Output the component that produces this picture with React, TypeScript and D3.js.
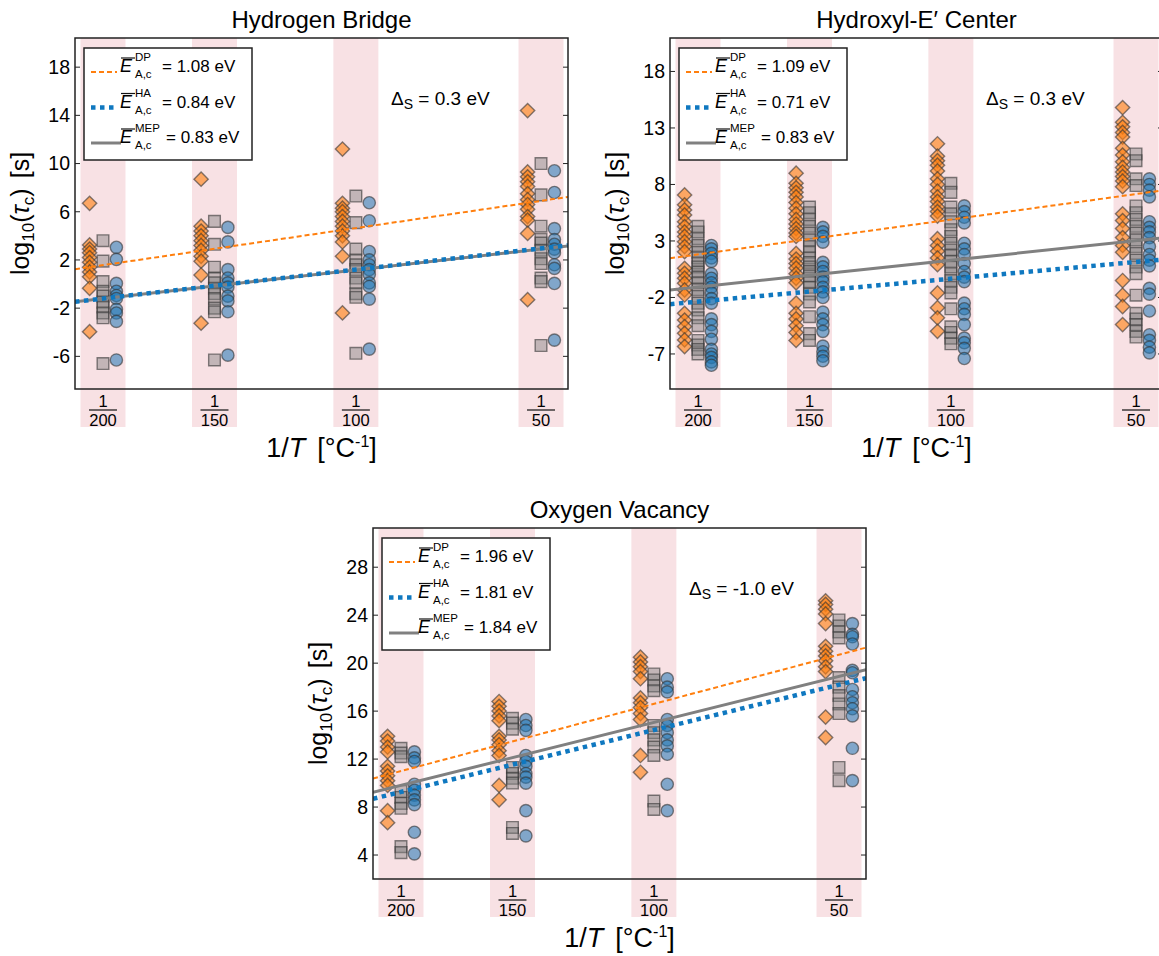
import React from 'react';
import * as d3 from 'd3';

// temperatures in °C for the four measurement groups
const temps = [200, 150, 100, 50];
const tickDen = ['200', '150', '100', '50'];
const seriesNames = ['DP', 'HA', 'MEP'];

// Hydrogen Bridge
const hbDP = [
  [6.7, 3.25, 2.9, 2.6, 2.2, 1.8, 1.4, 1.0, 0.6, -0.35, -3.95],
  [8.7, 4.8, 4.4, 4.0, 3.6, 3.2, 2.8, 2.3, 1.9, 0.75, -3.25],
  [11.2, 6.7, 6.3, 6.0, 5.6, 5.2, 4.8, 4.4, 4.0, 3.5, 2.3, -2.4],
  [14.4, 9.3, 8.9, 8.5, 8.1, 7.5, 7.0, 6.6, 6.2, 5.6, 5.3, 4.2, -1.3],
];
const hbMEP = [
  [3.6, 1.9, 0.2, -0.6, -1.0, -1.5, -1.9, -2.4, -2.8, -6.6],
  [5.2, 3.3, 1.4, 0.5, 0.1, -0.35, -0.8, -1.2, -2.0, -2.3, -6.3],
  [7.3, 5.1, 2.9, 2.0, 1.6, 1.2, 0.5, 0.1, -0.8, -1.1, -5.75],
  [10.0, 7.4, 4.8, 3.7, 3.4, 2.8, 2.1, 1.7, 0.5, 0.2, -5.1],
];
const hbHA = [
  [3.05, 2.05, 0.05, -0.6, -0.95, -1.2, -2.1, -2.4, -3.1, -6.3],
  [4.7, 3.5, 1.2, 0.5, 0.1, -0.25, -1.0, -1.4, -2.3, -5.9],
  [6.75, 5.25, 2.7, 2.0, 1.6, 1.2, 0.8, 0.1, -0.2, -1.25, -5.4],
  [9.4, 7.6, 4.6, 3.7, 3.3, 2.9, 2.6, 1.6, 1.3, 0.05, -4.65],
];
// fit values at 1/200 and 1/50 (DP, HA, MEP)
const hbFit = [[1.57, 6.9], [-1.2, 2.96], [-1.2, 2.9]];
const hbEnergy = ['1.08', '0.84', '0.83'];

// Hydroxyl-E' Center
const hxDP = [
  [7.07, 6.2, 5.75, 5.3, 4.7, 4.27, 3.8, 3.4, 2.94, 2.5, 2.05, 0.58, 0.14, -0.3, -0.74, -1.34, -1.78, -3.4, -4.0, -4.58, -5.17, -5.76, -6.35],
  [9.0, 8.1, 7.7, 7.3, 6.9, 6.4, 5.9, 5.4, 4.9, 4.5, 4.1, 3.7, 3.4, 1.9, 1.4, 1.0, 0.6, 0.1, -0.3, -0.7, -2.5, -3.4, -3.9, -4.5, -5.1, -5.8],
  [11.6, 10.5, 10.1, 9.7, 9.2, 8.5, 8.0, 7.4, 6.9, 6.5, 6.0, 5.6, 5.2, 3.2, 2.6, 2.1, 1.5, 0.9, -1.6, -2.9, -3.8, -5.0],
  [14.8, 13.5, 13.1, 12.6, 12.2, 11.2, 10.6, 10.0, 9.5, 9.1, 8.7, 8.3, 7.8, 5.4, 4.8, 4.1, 3.3, 2.6, 2.0, -0.5, -1.8, -2.8, -4.4],
];
const hxMEP = [
  [4.3, 3.8, 3.2, 2.6, 2.0, 1.5, 1.05, 0.7, 0.25, -0.2, -0.7, -1.3, -1.9, -2.5, -3.1, -3.8, -4.5, -5.8, -6.2, -6.6, -7.0],
  [6.0, 5.5, 4.9, 4.3, 3.7, 3.1, 2.5, 2.0, 1.5, 1.1, 0.7, 0.3, -0.1, -0.6, -1.1, -1.7, -2.4, -3.7, -5.2, -5.8],
  [8.1, 7.3, 6.0, 5.4, 4.7, 4.0, 3.4, 2.8, 2.2, 1.7, 1.2, 0.7, 0.1, -0.5, -1.1, -1.6, -3.0, -4.6, -5.1, -5.6, -6.1],
  [10.7, 10.1, 8.5, 7.9, 6.1, 5.5, 4.9, 4.3, 3.7, 3.1, 2.5, 1.9, 1.3, 0.7, 0.1, -1.8, -3.4, -3.9, -4.4, -5.0, -5.5],
];
const hxHA = [
  [2.6, 2.3, 1.9, 1.5, 1.2, 0.1, -0.3, -0.7, -1.1, -1.6, -2.1, -2.5, -3.9, -4.4, -5.0, -5.7, -6.6, -7.0, -7.3, -7.7, -8.0],
  [4.2, 3.8, 3.4, 2.9, 1.1, 0.7, 0.3, -0.2, -0.6, -1.1, -1.5, -2.0, -3.3, -3.9, -4.4, -5.0, -6.3, -6.8, -7.2, -7.6],
  [6.1, 5.6, 5.1, 4.6, 2.8, 2.3, 1.8, 1.0, 0.3, -0.2, -0.6, -2.5, -3.0, -3.5, -4.4, -5.6, -6.0, -6.5, -7.4],
  [8.5, 8.0, 7.5, 6.9, 4.7, 4.2, 3.8, 3.3, 2.5, 1.8, 1.3, 0.8, -1.2, -1.7, -3.2, -5.3, -5.8, -6.4, -6.9],
];
const hxFit = [[1.81, 7.15], [-2.37, 1.14], [-1.08, 3.03]];
const hxEnergy = ['1.09', '0.71', '0.83'];

// Oxygen Vacancy
const ovDP = [
  [13.9, 13.5, 13.0, 12.6, 11.4, 11.0, 10.6, 10.2, 9.8, 7.7, 6.7],
  [16.8, 16.4, 16.0, 15.6, 15.2, 13.9, 13.6, 13.2, 12.7, 12.3, 9.8, 8.6],
  [20.5, 20.1, 19.7, 19.3, 18.7, 17.1, 16.7, 16.3, 15.8, 15.3, 12.3, 10.9],
  [25.2, 24.9, 24.5, 24.1, 23.3, 21.4, 21.0, 20.6, 20.2, 19.7, 19.3, 15.5, 13.8],
];
const ovMEP = [
  [12.9, 12.5, 12.2, 9.3, 8.8, 8.3, 7.9, 4.7, 4.2],
  [15.4, 15.0, 14.5, 11.3, 10.8, 10.4, 10.0, 6.3, 5.8],
  [19.1, 18.6, 18.1, 17.7, 14.8, 14.2, 13.6, 13.0, 12.3, 8.5, 7.8],
  [23.6, 23.1, 22.6, 22.1, 18.8, 18.0, 17.3, 16.6, 15.8, 11.3, 10.2],
];
const ovHA = [
  [12.6, 12.1, 11.8, 9.9, 9.4, 9.0, 8.6, 8.2, 5.9, 4.1],
  [15.3, 14.8, 14.4, 12.3, 11.8, 11.4, 10.8, 10.5, 10.0, 7.7, 5.6],
  [18.7, 18.0, 17.6, 15.3, 14.8, 14.2, 13.6, 13.1, 12.4, 9.9, 7.7],
  [23.3, 22.4, 22.2, 21.6, 19.4, 19.2, 17.8, 17.2, 16.7, 16.2, 15.6, 12.9, 10.2],
];
const ovFit = [[11.0, 20.7], [9.26, 18.2], [9.81, 18.9]];
const ovEnergy = ['1.96', '1.81', '1.84'];

const W = 493;
const H = 351;
const FONT = '"Liberation Sans", "DejaVu Sans", sans-serif';
const ORANGE = '#ff7f0e';
const BLUE = '#1f77b4';
const LINE_BLUE = '#0f78c0';
const GRAY = '#808080';

const invT = (t: number) => 1 / (t + 273.15);

const panels = [
  { id: 'hb', left: 75, top: 38, title: 'Hydrogen Bridge', yDomain: [-8.71, 20.42], yTicks: [-6, -2, 2, 6, 10, 14, 18],
    dp: hbDP, mep: hbMEP, ha: hbHA, fit: hbFit, energy: hbEnergy, delta: '0.3' },
  { id: 'hx', left: 670, top: 38, title: 'Hydroxyl-E\u2032 Center', yDomain: [-10.1, 20.96], yTicks: [-7, -2, 3, 8, 13, 18],
    dp: hxDP, mep: hxMEP, ha: hxHA, fit: hxFit, energy: hxEnergy, delta: '0.3' },
  { id: 'ov', left: 373, top: 528, title: 'Oxygen Vacancy', yDomain: [2.0, 31.27], yTicks: [4, 8, 12, 16, 20, 24, 28],
    dp: ovDP, mep: ovMEP, ha: ovHA, fit: ovFit, energy: ovEnergy, delta: '-1.0' },
];

const diamondPath = d3.symbol().type(d3.symbolSquare).size(102)() as string;
const squarePath = d3.symbol().type(d3.symbolSquare).size(136)() as string;
const circlePath = d3.symbol().type(d3.symbolCircle).size(118)() as string;

const lineStyles = [
  { color: ORANGE, width: 2, dash: '5 3' },
  { color: LINE_BLUE, width: 4.5, dash: '4.5 4.5' },
  { color: GRAY, width: 3, dash: null },
];

function Panel({ p }: { p: any }) {
  const x = d3.scaleLinear().domain([0.0020508, 0.003155]).range([0, W]);
  const y = d3.scaleLinear().domain(p.yDomain).range([H, 0]);
  const bandHalf = 0.0000504;
  const off = 0.00003;
  const x0 = invT(temps[0]);
  const x3 = invT(temps[3]);
  const line = d3.line<[number, number]>().x(d => x(d[0])).y(d => y(d[1]));
  const dom = x.domain();

  const fitPts = (f: number[]): [number, number][] => {
    const slope = (f[1] - f[0]) / (x3 - x0);
    return [[dom[0], f[0] + slope * (dom[0] - x0)], [dom[1], f[0] + slope * (dom[1] - x0)]];
  };

  const markers = (vals: number[][], dx: number, path: string, fill: string, op: number, rot: number) =>
    vals.map((col, i) =>
      col.map((v, j) => (
        <path key={`${i}-${j}`} d={path}
          transform={`translate(${x(invT(temps[i]) + dx)},${y(v)}) rotate(${rot})`}
          fill={fill} fillOpacity={op} stroke="#333" strokeOpacity={0.6} strokeWidth={1.4} />
      )));

  return (
    <g transform={`translate(${p.left},${p.top})`}>
      <defs>
        <clipPath id={`clip-${p.id}`}><rect x={0} y={0} width={W} height={H} /></clipPath>
      </defs>
      {temps.map(t => (
        <rect key={t} x={x(invT(t) - bandHalf)} y={0} width={x(invT(t) + bandHalf) - x(invT(t) - bandHalf)}
          height={H + 38} fill="#f8e1e4" />
      ))}
      <text x={W / 2} y={-10} textAnchor="middle" fontSize={24} fontFamily={FONT}>{p.title}</text>
      <g clipPath={`url(#clip-${p.id})`}>
        {markers(p.dp, -off, diamondPath, ORANGE, 0.6, 45)}
        {markers(p.mep, 0, squarePath, GRAY, 0.45, 0)}
        {markers(p.ha, off, circlePath, BLUE, 0.55, 0)}
        {[2, 1, 0].map(k => (
          <path key={k} d={line(fitPts(p.fit[k])) as string} fill="none" stroke={lineStyles[k].color}
            strokeWidth={lineStyles[k].width} strokeDasharray={lineStyles[k].dash ?? undefined} />
        ))}
      </g>
      <rect x={0} y={0} width={W} height={H} fill="none" stroke="#222" strokeWidth={1.5} />
      {p.yTicks.map((t: number) => (
        <g key={t} transform={`translate(0,${y(t)})`}>
          <line x1={0} x2={5} stroke="#222" />
          <line x1={W - 5} x2={W} stroke="#222" />
          <text x={-5} dy="0.35em" textAnchor="end" fontSize={19.5} fontFamily={FONT}>{t}</text>
        </g>
      ))}
      {temps.map((t, i) => {
        const cx = x(invT(t));
        return (
          <g key={t} fontFamily={FONT} fontSize={16.5} textAnchor="middle">
            <text x={cx} y={H + 18}>1</text>
            <line x1={cx - 14} x2={cx + 14} y1={H + 21} y2={H + 21} stroke="#111" strokeWidth={1.2} />
            <text x={cx} y={H + 37}>{tickDen[i]}</text>
          </g>
        );
      })}
      <text x={W / 2} y={H + 68} textAnchor="middle" fontSize={27} fontFamily={FONT}>
        1/<tspan fontStyle="italic">T</tspan><tspan dx={12}>[°C</tspan><tspan dy={-10} fontSize={16}>-1</tspan><tspan dy={10}>]</tspan>
      </text>
      <text transform={`translate(-46,${H / 2}) rotate(-90)`} textAnchor="middle" fontSize={25} fontFamily={FONT}>
        log<tspan dy={5} fontSize={17}>10</tspan><tspan dy={-5}>(</tspan><tspan fontStyle="italic">τ</tspan>
        <tspan dy={5} fontSize={17}>c</tspan><tspan dy={-5}>)</tspan><tspan dx={10}>[s]</tspan>
      </text>
      <text x={316} y={67} fontSize={19} fontFamily={FONT}>
        Δ<tspan dy={4} fontSize={14}>S</tspan><tspan dy={-4}>{` = ${p.delta} eV`}</tspan>
      </text>
      <g transform="translate(9,10)" fontFamily={FONT}>
        <rect x={0} y={0} width={168} height={112} fill="white" stroke="#222" strokeWidth={1.5} />
        {seriesNames.map((s, k) => {
          const by = 24 + k * 35.5;
          const eqX = s === 'MEP' ? 82 : 78;
          return (
            <g key={s}>
              <line x1={7} x2={s === 'MEP' ? 37 : 33} y1={by} y2={by} stroke={lineStyles[k].color}
                strokeWidth={lineStyles[k].width} strokeDasharray={lineStyles[k].dash ?? undefined} />
              <line x1={37} x2={51} y1={by - 14} y2={by - 14} stroke="#111" strokeWidth={1.2} />
              <text x={36} y={by} fontSize={18} fontStyle="italic">E</text>
              <text x={51} y={by - 11} fontSize={11.5}>{s}</text>
              <text x={51} y={by + 6} fontSize={11.5}>A,c</text>
              <text x={eqX} y={by} fontSize={17}>{`= ${p.energy[k]} eV`}</text>
            </g>
          );
        })}
      </g>
    </g>
  );
}

export default function App() {
  return (
    <svg width={1159} height={956} style={{ position: 'absolute', left: 0, top: 0, background: 'white' }}>
      {panels.map(p => <Panel key={p.id} p={p} />)}
    </svg>
  );
}
